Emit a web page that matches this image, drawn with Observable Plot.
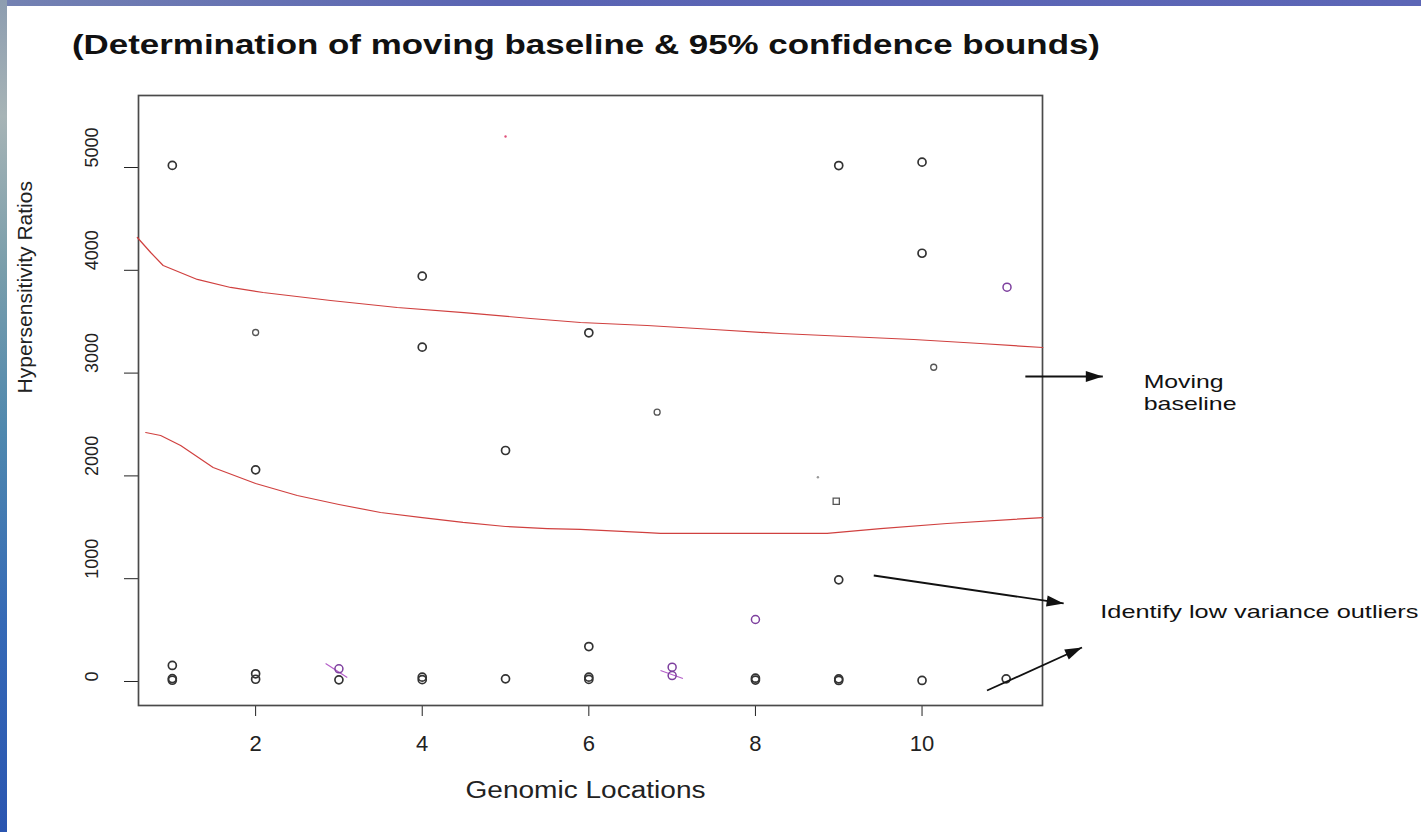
<!DOCTYPE html>
<html>
<head>
<meta charset="utf-8">
<script src="https://cdn.jsdelivr.net/npm/d3@7"></script>
<script src="https://cdn.jsdelivr.net/npm/@observablehq/plot@0.6"></script>
<style>
  html, body { margin: 0; padding: 0; background: #fff; }
  #slide { position: relative; width: 1421px; height: 832px; overflow: hidden; background: #fff;
           font-family: "Liberation Sans", Arial, sans-serif; }
  #topband { position: absolute; left: 0; top: 0; width: 1421px; height: 6px;
             background: linear-gradient(90deg, #7482b2, #5a64b3 35%, #5c66b6 100%); }
  #leftband { position: absolute; left: 0; top: 0; width: 7px; height: 832px;
              background: linear-gradient(180deg, #8d9db0 0%, #a7b4b6 14%, #7a9eab 32%, #4f88ae 52%, #3569b6 75%, #2a55b0 100%); }
  #title { position: relative; height: 50px; }
  #title span { position: absolute; left: 72px; top: 32px; font-weight: bold; font-size: 27px; line-height: 1;
                white-space: nowrap; transform-origin: 0 0; color: #111; }
  #chart svg { display: block; }
</style>
</head>
<body>
<div id="slide">
  <div id="title"><span>(Determination of moving baseline &amp; 95% confidence bounds)</span></div>
  <div id="chart"></div>
  <div id="topband"></div>
  <div id="leftband"></div>
</div>
<script>
// Axis ticks
const xTicks = [2, 4, 6, 8, 10];
const yTicks = [0, 1000, 2000, 3000, 4000, 5000];

// Observed hypersensitivity ratios (open circles)
const openLoc   = [1, 1, 1, 1, 2, 2, 2, 3, 4, 4, 4, 4, 5, 5, 6, 6, 6, 6, 8, 8, 9, 9, 9, 9, 10, 10, 10, 11.01];
const openRatio = [5020, 156, 28, 12, 2059, 75, 22, 16, 3943, 3252, 42, 18, 2247, 26, 3392, 340, 42, 20, 32, 14, 5019, 989, 26, 10, 5052, 4166, 10, 26];

// Smaller glyphs
const smallLoc   = [2, 6.82, 10.14];
const smallRatio = [3395, 2620, 3057];
const squareLoc   = [8.97];
const squareRatio = [1754];

// Flagged observations (purple) and their strike marks
const flaggedLoc   = [3, 7, 7, 8, 11.02];
const flaggedRatio = [123, 139, 58, 603, 3836];
const strikeFromLoc   = [2.84, 6.86];
const strikeFromRatio = [175, 107];
const strikeToLoc     = [3.10, 7.13];
const strikeToRatio   = [39, 29];

// Faint single-pixel traces
const traceLoc   = [5, 8.75];
const traceRatio = [5302, 1987];
const traceColor = ["#e0507a", "#999"];

// Moving 95% confidence bounds
const upperLoc   = [0.58, 0.74, 0.89, 1.30, 1.70, 2.09, 2.90, 3.70, 4.50, 5.30, 5.90, 6.70, 7.50, 8.30, 9.10, 9.90, 10.70, 11.45];
const upperRatio = [4319, 4173, 4047, 3911, 3833, 3784, 3706, 3638, 3589, 3531, 3492, 3463, 3424, 3385, 3356, 3327, 3288, 3249];
const lowerLoc   = [0.68, 0.86, 1.10, 1.49, 2.00, 2.50, 3.00, 3.50, 4.00, 4.49, 5.00, 5.50, 5.90, 6.70, 6.86, 7.90, 8.86, 9.50, 10.30, 11.45];
const lowerRatio = [2422, 2393, 2296, 2082, 1926, 1809, 1722, 1644, 1595, 1547, 1508, 1488, 1479, 1449, 1440, 1440, 1440, 1488, 1537, 1595];

// Callout arrows and notes (in chart units)
const arrowFromLoc   = [11.24, 9.42, 10.78];
const arrowFromRatio = [2967, 1031, -88];
const arrowToLoc     = [12.17, 11.70, 11.92];
const arrowToRatio   = [2967, 759, 331];
const noteText  = ["Moving", "baseline", "Identify low variance outliers"];
const noteLoc   = [12.66, 12.66, 12.14];
const noteRatio = [2918, 2704, 681];
const noteWidth = [80, 93, 318];

const W = 1421, H = 782, mL = 138, mR = 379, mT = 45, mB = 127;
const xDomain = [0.594, 11.446];
const yDomain = [-233.5, 5700.4];
const sx = d3.scaleLinear(xDomain, [mL, W - mR]);
const sy = d3.scaleLinear(yDomain, [H - mB, mT]);

const zip = (xs, ys) => xs.map((x, i) => ({x, y: ys[i], i}));

// filled triangular arrow head, tip at the anchor point
function arrowHead(angle, len = 17, half = 5.5) {
  const c = Math.cos(angle), s = Math.sin(angle);
  return {
    draw(ctx) {
      ctx.moveTo(0, 0);
      ctx.lineTo(-len * c - half * s, -len * s + half * c);
      ctx.lineTo(-len * c + half * s, -len * s - half * c);
      ctx.closePath();
    }
  };
}

const arrows = arrowFromLoc.map((x1, i) => ({
  x1, y1: arrowFromRatio[i], x2: arrowToLoc[i], y2: arrowToRatio[i]
}));
const headMarks = arrows.map(a => {
  const ang = Math.atan2(sy(a.y2) - sy(a.y1), sx(a.x2) - sx(a.x1));
  return Plot.dot([a], {x: "x2", y: "y2", symbol: arrowHead(ang), fill: "#111", stroke: "none", r: 5});
});
const strikes = strikeFromLoc.map((x1, i) => ({
  x1, y1: strikeFromRatio[i], x2: strikeToLoc[i], y2: strikeToRatio[i]
}));

const notes = noteText.map((t, i) => ({t, x: noteLoc[i], y: noteRatio[i]}));

const chart = Plot.plot({
  width: W,
  height: H,
  marginLeft: mL,
  marginRight: mR,
  marginTop: mT,
  marginBottom: mB,
  style: {fontFamily: "'Liberation Sans', Arial, sans-serif", fontSize: "22px", color: "#222", background: "transparent", overflow: "visible"},
  x: {domain: xDomain, ticks: xTicks, tickSize: 11, tickPadding: 19, label: null, tickFormat: d => String(d)},
  y: {domain: yDomain, ticks: yTicks, tickSize: 14, tickFormat: () => "", label: null},
  marks: [
    Plot.frame({stroke: "#4a4a4a", strokeWidth: 1.7}),
    Plot.line(zip(upperLoc, upperRatio), {x: "x", y: "y", stroke: "#d0403f", strokeWidth: 1.2}),
    Plot.line(zip(lowerLoc, lowerRatio), {x: "x", y: "y", stroke: "#d0403f", strokeWidth: 1.2}),
    Plot.dot(zip(openLoc, openRatio), {x: "x", y: "y", r: 4, stroke: "#333", strokeWidth: 1.7, fill: "none"}),
    Plot.dot(zip(smallLoc, smallRatio), {x: "x", y: "y", r: 3, stroke: "#555", strokeWidth: 1.3, fill: "none"}),
    Plot.dot(zip(squareLoc, squareRatio), {x: "x", y: "y", r: 3.5, symbol: "square", stroke: "#555", strokeWidth: 1.3, fill: "none"}),
    Plot.link(strikes, {x1: "x1", y1: "y1", x2: "x2", y2: "y2", stroke: "#b35cc8", strokeWidth: 1.1}),
    Plot.dot(zip(flaggedLoc, flaggedRatio), {x: "x", y: "y", r: 4, stroke: "#7d3f9e", strokeWidth: 1.5, fill: "none"}),
    Plot.dot(zip(traceLoc, traceRatio), {x: "x", y: "y", r: 1.2, fill: d => traceColor[d.i], stroke: "none"}),
    // rotated y tick labels
    Plot.text(yTicks, {y: d => d, text: d => String(d), frameAnchor: "left", dx: -46, rotate: -90, fontSize: 18, fill: "#222"}),
    // axis titles
    Plot.text([{y: 2802, t: "Hypersensitivity Ratios"}], {y: "y", text: "t", frameAnchor: "left", dx: -113, rotate: -90, fontSize: 21, fill: "#222"}),
    Plot.text([{x: 5.96, t: "Genomic Locations"}], {x: "x", text: "t", frameAnchor: "bottom", dy: 92, fontSize: 23, fill: "#222"}),
    // callouts
    Plot.link(arrows, {x1: "x1", y1: "y1", x2: "x2", y2: "y2", stroke: "#111", strokeWidth: 1.8}),
    ...headMarks,
    Plot.text(notes, {x: "x", y: "y", text: "t", textAnchor: "start", fontSize: 19, fill: "#111"})
  ]
});

document.getElementById("chart").appendChild(chart);

// widen the note and axis-title text to the slide's proportions
const stretch = {"Genomic Locations": 240};
noteText.forEach((t, i) => { stretch[t] = noteWidth[i]; });
d3.select(chart).selectAll("text").each(function() {
  const w = stretch[this.textContent];
  if (w) {
    this.setAttribute("textLength", w);
    this.setAttribute("lengthAdjust", "spacingAndGlyphs");
  }
});

// title spans from the left margin to the right of the plot box
const titleSpan = document.querySelector("#title span");
const natural = titleSpan.getBoundingClientRect().width;
titleSpan.style.transform = `scaleX(${1028 / natural})`;
</script>
</body>
</html>
